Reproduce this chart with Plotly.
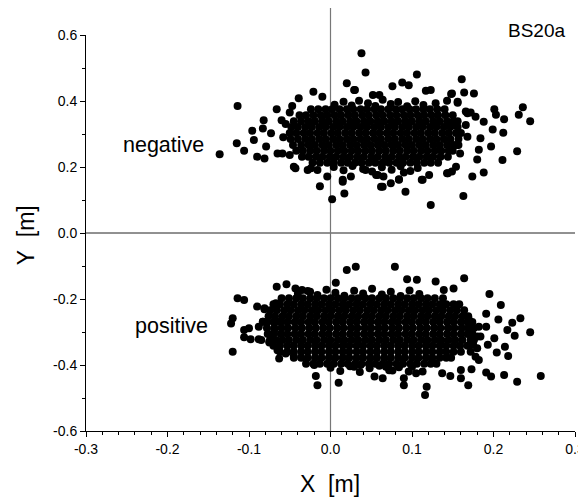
import plotly.graph_objects as go

# ---------------- data ----------------
# dense core of the "negative" cluster: row y value and x positions along that row
neg_core_y = [0.375, 0.357, 0.339, 0.321, 0.303, 0.285, 0.267, 0.249, 0.231, 0.213]
neg_core_x = [
    [-0.024, -0.015, -0.006, 0.002, 0.011, 0.020, 0.028, 0.037, 0.045, 0.054, 0.062, 0.071, 0.080, 0.088, 0.097, 0.105, 0.114, 0.122, 0.131, 0.140],
    [-0.038, -0.030, -0.021, -0.012, -0.004, 0.005, 0.013, 0.022, 0.030, 0.039, 0.047, 0.056, 0.064, 0.073, 0.081, 0.090, 0.098, 0.107, 0.115, 0.124, 0.132, 0.141, 0.150],
    [-0.045, -0.036, -0.027, -0.019, -0.010, -0.002, 0.007, 0.015, 0.024, 0.032, 0.041, 0.049, 0.058, 0.066, 0.075, 0.083, 0.092, 0.100, 0.109, 0.117, 0.126, 0.134, 0.143, 0.151, 0.156],
    [-0.048, -0.040, -0.031, -0.023, -0.014, -0.006, 0.003, 0.011, 0.020, 0.028, 0.037, 0.045, 0.054, 0.062, 0.071, 0.079, 0.088, 0.096, 0.105, 0.113, 0.122, 0.130, 0.139, 0.147, 0.156],
    [-0.050, -0.042, -0.033, -0.025, -0.016, -0.008, 0.001, 0.009, 0.018, 0.026, 0.035, 0.043, 0.052, 0.060, 0.069, 0.077, 0.086, 0.094, 0.103, 0.111, 0.120, 0.128, 0.137, 0.145, 0.154, 0.160],
    [-0.049, -0.040, -0.031, -0.023, -0.014, -0.006, 0.003, 0.011, 0.020, 0.028, 0.037, 0.045, 0.054, 0.062, 0.071, 0.079, 0.088, 0.096, 0.105, 0.113, 0.122, 0.130, 0.139, 0.147, 0.157],
    [-0.046, -0.036, -0.027, -0.019, -0.010, -0.002, 0.007, 0.015, 0.024, 0.032, 0.041, 0.049, 0.058, 0.066, 0.075, 0.083, 0.092, 0.100, 0.109, 0.117, 0.126, 0.134, 0.143, 0.151, 0.155],
    [-0.042, -0.034, -0.025, -0.017, -0.008, 0.000, 0.009, 0.017, 0.026, 0.034, 0.043, 0.051, 0.060, 0.068, 0.077, 0.085, 0.094, 0.102, 0.111, 0.119, 0.128, 0.136, 0.145, 0.150],
    [-0.035, -0.027, -0.018, -0.010, -0.001, 0.007, 0.016, 0.024, 0.033, 0.041, 0.050, 0.058, 0.067, 0.075, 0.084, 0.092, 0.101, 0.109, 0.118, 0.126, 0.135, 0.144],
    [-0.022, -0.013, -0.004, 0.004, 0.013, 0.021, 0.030, 0.038, 0.047, 0.055, 0.064, 0.072, 0.081, 0.089, 0.098, 0.106, 0.115, 0.123, 0.132],
]
# ragged top / bottom edge of the "negative" core
neg_edge_x = [0.005, 0.016, 0.026, 0.035, 0.046, 0.055, 0.064, 0.074, 0.083, 0.094, 0.104, 0.114,
              0.004, 0.016, 0.027, 0.040, 0.051, 0.063, 0.075, 0.086, 0.098, 0.107]
neg_edge_y = [0.389, 0.398, 0.386, 0.401, 0.393, 0.385, 0.404, 0.391, 0.397, 0.384, 0.399, 0.388,
              0.200, 0.190, 0.203, 0.194, 0.186, 0.199, 0.192, 0.202, 0.188, 0.197]
# scattered points around the "negative" cluster
neg_out_x = [0.038, 0.043, 0.020, 0.030, -0.021, -0.010, -0.039, -0.114, -0.066, -0.050, -0.060, -0.082,
             -0.096, -0.083, -0.073, -0.094, -0.115, -0.136, -0.106, -0.090, -0.081, -0.065, -0.059, -0.079,
             -0.043, -0.024, -0.013, -0.004, 0.002, 0.017, 0.015, 0.025, 0.056, 0.062, -0.050,
             0.106, 0.161, 0.088, 0.076, 0.117, 0.123, 0.149, 0.164, 0.176, 0.129, 0.143, 0.156,
             0.201, 0.236, 0.231, 0.245, 0.213, 0.188, 0.203, 0.172, 0.166, 0.178, 0.212, 0.199,
             0.184, 0.197, 0.229, 0.211, 0.182, 0.180, 0.168, 0.157, 0.159, 0.188, 0.174, 0.163,
             0.123, 0.143, 0.149, 0.121, 0.112, 0.092, 0.064, 0.074, 0.084, 0.090, 0.065,
             0.096, 0.029, 0.052, 0.060, 0.148, 0.156, 0.168, 0.166, 0.015, 0.058, 0.084, 0.113,
             0.144, 0.154, -0.045, -0.028, -0.016, 0.043, -0.055, -0.058, -0.047]
neg_out_y = [0.545, 0.486, 0.454, 0.433, 0.428, 0.413, 0.408, 0.385, 0.375, 0.365, 0.342, 0.342,
             0.310, 0.317, 0.302, 0.282, 0.272, 0.239, 0.249, 0.231, 0.226, 0.241, 0.241, 0.262,
             0.196, 0.196, 0.142, 0.171, 0.102, 0.120, 0.155, 0.171, 0.176, 0.140, 0.236,
             0.480, 0.466, 0.456, 0.445, 0.431, 0.433, 0.423, 0.426, 0.423, 0.393, 0.401, 0.395,
             0.375, 0.381, 0.358, 0.339, 0.345, 0.337, 0.358, 0.365, 0.368, 0.352, 0.304, 0.314,
             0.287, 0.262, 0.248, 0.221, 0.252, 0.223, 0.292, 0.267, 0.241, 0.183, 0.171, 0.112,
             0.085, 0.181, 0.186, 0.176, 0.161, 0.125, 0.140, 0.151, 0.163, 0.183, 0.171,
             0.448, 0.433, 0.418, 0.418, 0.421, 0.398, 0.363, 0.327, 0.161, 0.176, 0.161, 0.161,
             0.181, 0.201, 0.201, 0.191, 0.191, 0.191, 0.330, 0.290, 0.385]

# dense core of the "positive" cluster
pos_core_y = [-0.198, -0.216, -0.234, -0.252, -0.270, -0.288, -0.306, -0.324, -0.342, -0.360, -0.378, -0.396]
pos_core_x = [
    [-0.060, -0.051, -0.042, -0.034, -0.025, -0.017, -0.008, 0.000, 0.009, 0.017, 0.026, 0.034, 0.043, 0.051, 0.060, 0.068, 0.077, 0.085, 0.094, 0.102, 0.111, 0.119, 0.128, 0.138],
    [-0.070, -0.062, -0.053, -0.045, -0.036, -0.028, -0.019, -0.011, -0.002, 0.006, 0.015, 0.023, 0.032, 0.040, 0.049, 0.057, 0.066, 0.074, 0.083, 0.091, 0.100, 0.108, 0.117, 0.125, 0.134, 0.142, 0.151, 0.158],
    [-0.074, -0.066, -0.057, -0.049, -0.040, -0.032, -0.023, -0.015, -0.006, 0.002, 0.011, 0.019, 0.028, 0.036, 0.045, 0.053, 0.062, 0.070, 0.079, 0.087, 0.096, 0.104, 0.113, 0.121, 0.130, 0.138, 0.147, 0.155, 0.164],
    [-0.076, -0.068, -0.059, -0.051, -0.042, -0.034, -0.025, -0.017, -0.008, 0.000, 0.009, 0.017, 0.026, 0.034, 0.043, 0.051, 0.060, 0.068, 0.077, 0.085, 0.094, 0.102, 0.111, 0.119, 0.128, 0.136, 0.145, 0.153, 0.162, 0.169],
    [-0.078, -0.070, -0.061, -0.053, -0.044, -0.036, -0.027, -0.019, -0.010, -0.002, 0.007, 0.015, 0.024, 0.032, 0.041, 0.049, 0.058, 0.066, 0.075, 0.083, 0.092, 0.100, 0.109, 0.117, 0.126, 0.134, 0.143, 0.151, 0.160, 0.168, 0.174],
    [-0.078, -0.069, -0.060, -0.052, -0.043, -0.035, -0.026, -0.018, -0.009, -0.001, 0.008, 0.016, 0.025, 0.033, 0.042, 0.050, 0.059, 0.067, 0.076, 0.084, 0.093, 0.101, 0.110, 0.118, 0.127, 0.135, 0.144, 0.152, 0.161, 0.169, 0.176],
    [-0.077, -0.070, -0.061, -0.053, -0.044, -0.036, -0.027, -0.019, -0.010, -0.002, 0.007, 0.015, 0.024, 0.032, 0.041, 0.049, 0.058, 0.066, 0.075, 0.083, 0.092, 0.100, 0.109, 0.117, 0.126, 0.134, 0.143, 0.151, 0.160, 0.168, 0.174],
    [-0.074, -0.067, -0.059, -0.051, -0.042, -0.034, -0.025, -0.017, -0.008, 0.000, 0.009, 0.017, 0.026, 0.034, 0.043, 0.051, 0.060, 0.068, 0.077, 0.085, 0.094, 0.102, 0.111, 0.119, 0.128, 0.136, 0.145, 0.153, 0.162, 0.172],
    [-0.070, -0.062, -0.053, -0.045, -0.036, -0.028, -0.019, -0.011, -0.002, 0.006, 0.015, 0.023, 0.032, 0.040, 0.049, 0.057, 0.066, 0.074, 0.083, 0.091, 0.100, 0.108, 0.117, 0.125, 0.134, 0.142, 0.151, 0.159, 0.168],
    [-0.062, -0.053, -0.045, -0.036, -0.028, -0.019, -0.011, -0.002, 0.006, 0.015, 0.023, 0.032, 0.040, 0.049, 0.057, 0.066, 0.074, 0.083, 0.091, 0.100, 0.108, 0.117, 0.125, 0.134, 0.142, 0.151, 0.160],
    [-0.045, -0.036, -0.028, -0.019, -0.011, -0.002, 0.006, 0.015, 0.023, 0.032, 0.040, 0.049, 0.057, 0.066, 0.074, 0.083, 0.091, 0.100, 0.108, 0.117, 0.125, 0.134, 0.142, 0.148],
    [-0.030, -0.021, -0.013, -0.004, 0.004, 0.013, 0.021, 0.030, 0.038, 0.047, 0.055, 0.064, 0.072, 0.081, 0.089, 0.098, 0.106, 0.115, 0.123, 0.130],
]
# ragged top / bottom edge of the "positive" core
pos_edge_x = [-0.040, -0.028, -0.016, -0.005, 0.006, 0.017, 0.029, 0.040, 0.051, 0.063, 0.074, 0.086, 0.097, 0.109,
              0.000, 0.012, 0.024, 0.036, 0.048, 0.060, 0.072, 0.084, 0.096, 0.100]
pos_edge_y = [-0.184, -0.176, -0.188, -0.172, -0.181, -0.190, -0.175, -0.183, -0.169, -0.186, -0.178, -0.191, -0.174, -0.185,
              -0.408, -0.418, -0.404, -0.421, -0.410, -0.402, -0.416, -0.407, -0.420, -0.405]
# scattered points around the "positive" cluster
pos_out_x = [-0.066, -0.114, -0.106, -0.090, -0.081, -0.067, -0.120, -0.122, -0.083, -0.088, -0.106, -0.100,
             -0.106, -0.098, -0.088, -0.075, -0.120, -0.065, -0.063, -0.069, -0.065,
             0.020, 0.031, 0.079, 0.0065, -0.054, -0.043, -0.035, -0.025, 0.094, 0.106, -0.018, -0.016,
             0.010, 0.054, 0.064, 0.090, 0.090, -0.055, -0.045, -0.020, 0.029, 0.037, 0.068, 0.076,
             0.164, 0.129, 0.139, 0.151, 0.195, 0.209, 0.191, 0.206, 0.233, 0.223, 0.217, 0.226, 0.245,
             0.191, 0.201, 0.193, 0.214, 0.218, 0.204, 0.182, 0.258, 0.229, 0.213, 0.191, 0.197, 0.173,
             0.169, 0.160, 0.160, 0.118, 0.116, 0.147, 0.137, 0.105, 0.113, 0.172, 0.175, 0.170, 0.173,
             0.184, -0.081, -0.083, -0.085, -0.075, 0.178, 0.180, 0.176, 0.182, 0.180]
pos_out_y = [-0.163, -0.198, -0.203, -0.223, -0.231, -0.213, -0.258, -0.274, -0.269, -0.284, -0.294, -0.289,
             -0.316, -0.322, -0.322, -0.329, -0.360, -0.355, -0.380, -0.294, -0.269,
             -0.112, -0.102, -0.102, -0.151, -0.155, -0.168, -0.173, -0.178, -0.140, -0.142, -0.433, -0.461,
             -0.454, -0.435, -0.440, -0.440, -0.461, -0.365, -0.373, -0.400, -0.405, -0.400, -0.405, -0.417,
             -0.137, -0.147, -0.173, -0.168, -0.185, -0.218, -0.245, -0.262, -0.258, -0.272, -0.294, -0.311, -0.301,
             -0.284, -0.319, -0.339, -0.345, -0.373, -0.362, -0.385, -0.433, -0.451, -0.430, -0.423, -0.435, -0.413,
             -0.461, -0.440, -0.415, -0.466, -0.491, -0.433, -0.425, -0.425, -0.420, -0.360, -0.339, -0.264, -0.299,
             -0.314, -0.228, -0.269, -0.324, -0.332, -0.375, -0.349, -0.324, -0.284, -0.314]

x_ticks = [-0.3, -0.2, -0.1, 0.0, 0.1, 0.2, 0.3]
x_tick_labels = ["-0.3", "-0.2", "-0.1", "0.0", "0.1", "0.2", "0.3"]
y_ticks = [-0.6, -0.4, -0.2, 0.0, 0.2, 0.4, 0.6]
y_tick_labels = ["-0.6", "-0.4", "-0.2", "0.0", "0.2", "0.4", "0.6"]

# ---------------- assemble ----------------
def flatten(rows_y, rows_x, extra):
    xs, ys = [], []
    for yv, row in zip(rows_y, rows_x):
        for xv in row:
            xs.append(xv)
            ys.append(yv)
    for ex, ey in extra:
        xs += ex
        ys += ey
    return xs, ys

nx, ny = flatten(neg_core_y, neg_core_x, [(neg_edge_x, neg_edge_y), (neg_out_x, neg_out_y)])
px, py = flatten(pos_core_y, pos_core_x, [(pos_edge_x, pos_edge_y), (pos_out_x, pos_out_y)])

FONT = "Arial, Liberation Sans, sans-serif"
fig = go.Figure()
for xs, ys in ((nx, ny), (px, py)):
    fig.add_trace(go.Scatter(x=xs, y=ys, mode="markers",
                             marker=dict(color="black", size=8, line=dict(width=0)),
                             hoverinfo="skip"))

axis_common = dict(showgrid=False, zeroline=False, showline=True, linecolor="black", linewidth=1,
                   ticks="outside", ticklen=5, tickwidth=1, tickcolor="black", automargin=False,
                   tickfont=dict(family=FONT, size=14, color="black"), tickmode="array")
fig.update_xaxes(range=[-0.3, 0.3], tickvals=x_ticks, ticktext=x_tick_labels,
                 minor=dict(ticks="outside", tickmode="linear", tick0=0, dtick=0.02,
                            ticklen=3, tickcolor="black", tickwidth=1), **axis_common)
fig.update_yaxes(range=[-0.6, 0.6], tickvals=y_ticks, ticktext=y_tick_labels,
                 minor=dict(ticks="outside", tickmode="linear", tick0=0, dtick=0.1,
                            ticklen=3, tickcolor="black", tickwidth=1), **axis_common)

# the page body adds an 8px margin, so the figure is sized/offset to compensate
fig.update_layout(
    width=578, height=490,
    margin=dict(l=78, r=11, t=27, b=67),
    plot_bgcolor="white", paper_bgcolor="white",
    showlegend=False,
    font=dict(family=FONT, color="black"),
    shapes=[
        dict(type="line", xref="paper", yref="y", x0=0, x1=1, y0=0, y1=0,
             line=dict(color="#222222", width=1), layer="below"),
        dict(type="line", xref="x", yref="paper", x0=0, x1=0, y0=0, y1=1.068,
             line=dict(color="#777777", width=1.2), layer="below"),
    ],
    annotations=[
        dict(text="negative", x=-0.205, y=0.267, xref="x", yref="y", showarrow=False,
             xanchor="center", yanchor="middle",
             font=dict(size=21.5, family=FONT, color="black")),
        dict(text="positive", x=-0.1945, y=-0.282, xref="x", yref="y", showarrow=False,
             xanchor="center", yanchor="middle",
             font=dict(size=21.5, family=FONT, color="black")),
        dict(text="BS20a", x=0.921, y=1.0126, xref="paper", yref="paper", showarrow=False,
             xanchor="center", yanchor="middle",
             font=dict(size=19, family=FONT, color="black")),
        dict(text="X\u00a0\u00a0[m]", x=0.4993, y=-0.134, xref="paper", yref="paper", showarrow=False,
             xanchor="center", yanchor="middle",
             font=dict(size=23, family=FONT, color="black")),
        dict(text="Y\u00a0\u00a0[m]", x=-0.122, y=0.495, xref="paper", yref="paper", showarrow=False,
             xanchor="center", yanchor="middle",
             textangle=-90, font=dict(size=23, family=FONT, color="black")),
    ],
)

fig.write_html("out.html")
